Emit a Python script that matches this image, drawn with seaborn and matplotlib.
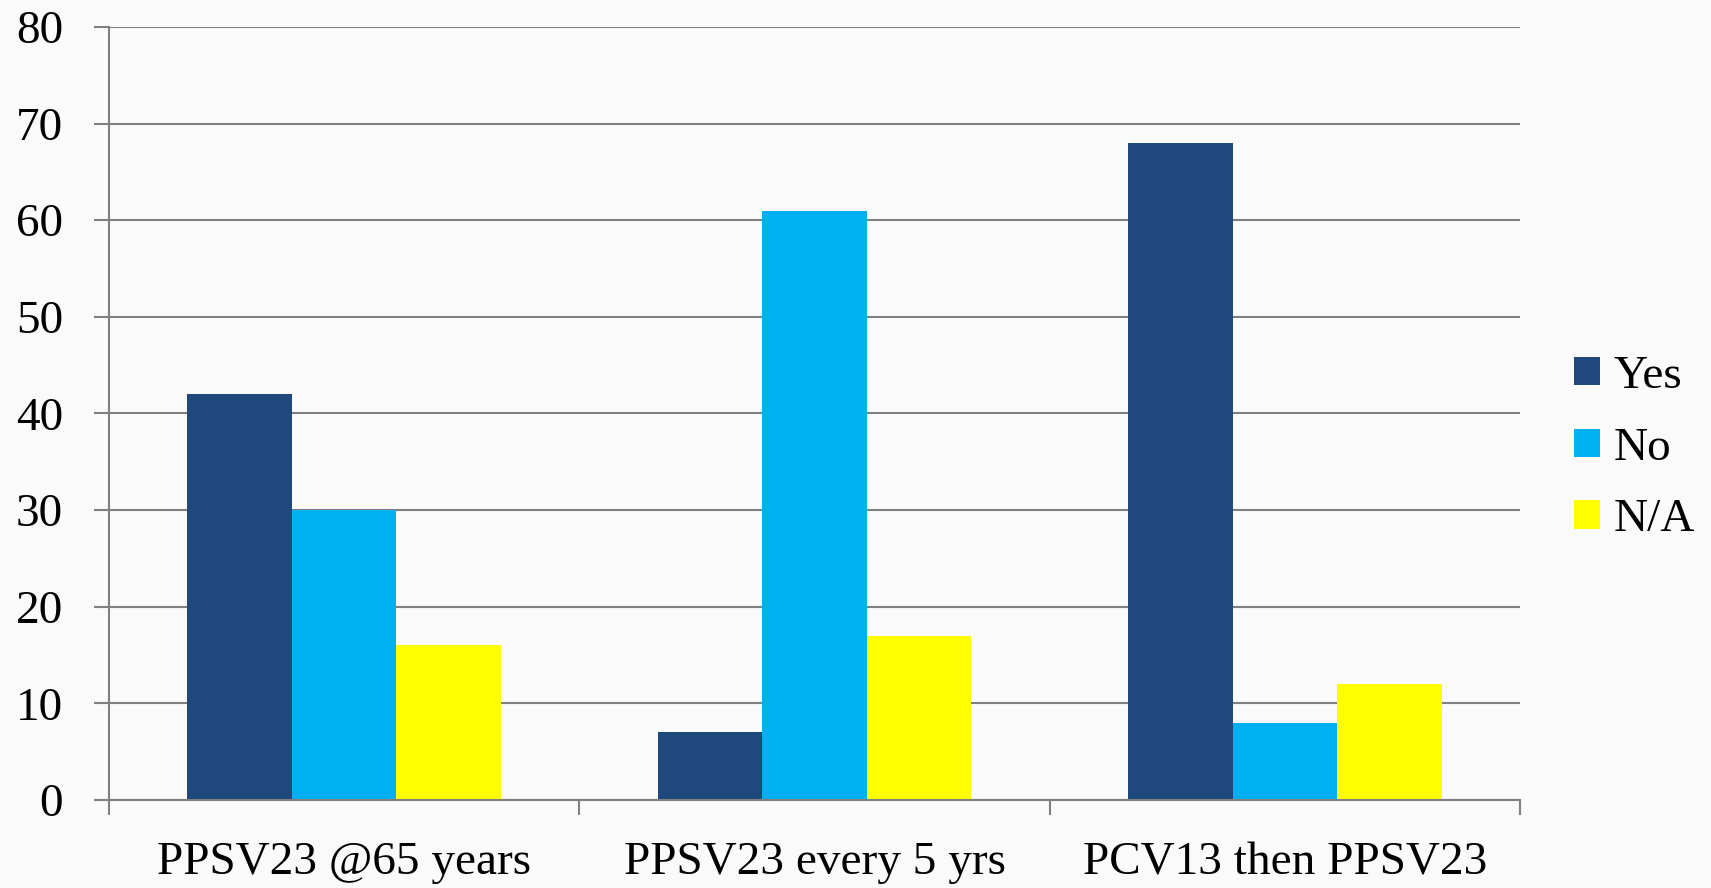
import matplotlib
matplotlib.use("Agg")
import matplotlib.pyplot as plt
import seaborn as sns
import pandas as pd
import numpy as np

categories = ["PPSV23 @65 years", "PPSV23 every 5 yrs", "PCV13 then PPSV23"]
series = ["Yes", "No", "N/A"]
yes_vals = [42, 7, 68]
no_vals = [30, 61, 8]
na_vals = [16, 17, 12]
colors = ["#1F497D", "#00B0F0", "#FFFF00"]

df = pd.DataFrame({
    "category": categories * 3,
    "answer": ["Yes"] * 3 + ["No"] * 3 + ["N/A"] * 3,
    "value": yes_vals + no_vals + na_vals,
})

sns.set_style("white")
plt.rcParams["font.family"] = ["Liberation Serif", "DejaVu Serif"]
plt.rcParams["text.color"] = "black"
plt.rcParams["xtick.labelcolor"] = "black"
plt.rcParams["ytick.labelcolor"] = "black"

fig = plt.figure(figsize=(17.11, 8.88), dpi=100)
fig.patch.set_facecolor("#FAFAFA")
ax = fig.add_axes([109 / 1711, 88 / 888, (1520 - 109) / 1711, (800 - 27) / 888])
ax.set_facecolor("#FAFAFA")

sns.barplot(
    data=df, x="category", y="value", hue="answer",
    hue_order=series, palette=colors, width=0.667,
    saturation=1, linewidth=0, ax=ax,
)

ax.set_xlim(-0.5, 2.5)
ax.set_ylim(0, 80)
ax.set_yticks(range(0, 81, 10))
ax.yaxis.grid(True, color="#808080", linewidth=1.5)
ax.set_axisbelow(True)
for s in ["top", "right"]:
    ax.spines[s].set_visible(False)
for s in ["left", "bottom"]:
    ax.spines[s].set_color("#808080")
    ax.spines[s].set_linewidth(1.5)

ax.tick_params(axis="y", left=True, length=11, width=1.5, color="#808080",
               labelsize=34, pad=22, labelcolor="black")
ax.tick_params(axis="x", which="major", bottom=True, length=0,
               labelsize=34, pad=30, labelcolor="black")
ax.set_xticks([-0.5, 0.5, 1.5, 2.5], minor=True)
ax.tick_params(axis="x", which="minor", bottom=True, length=11, width=1.5,
               color="#808080")
ax.set_xlabel("")
ax.set_ylabel("")

leg = ax.legend(loc="center left", bbox_to_anchor=(1.008, 0.455), frameon=False,
                fontsize=34, handlelength=0.55, handleheight=0.55,
                handletextpad=0.3, labelspacing=0.62)
for t in leg.get_texts():
    t.set_color("black")

fig.savefig("out.png", dpi=100, facecolor=fig.get_facecolor())
